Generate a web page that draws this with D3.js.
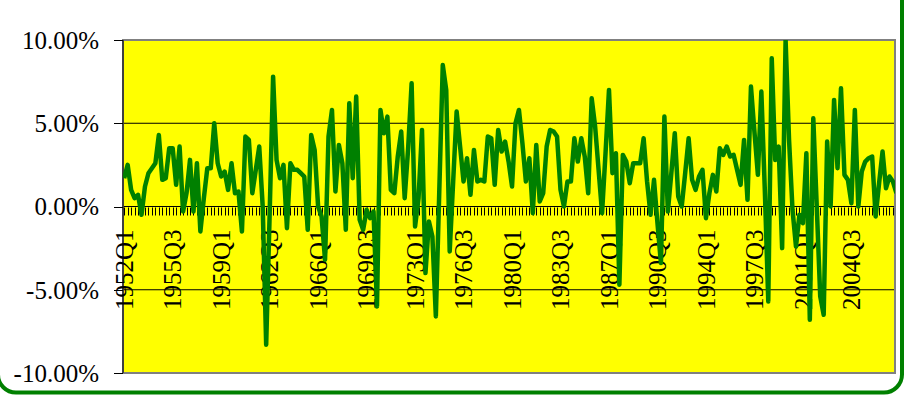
<!DOCTYPE html>
<html>
<head>
<meta charset="utf-8">
<script src="https://cdn.jsdelivr.net/npm/d3@7"></script>
<style>
  body { margin: 0; background: #fff; }
  svg { display: block; }
</style>
</head>
<body>
<div id="chart"></div>
<script>
const width = 906;
const height = 395;
const plotLeft = 123;
const plotRight = 895;
const plotTop = 40;
const plotBottom = 373;

// quarterly growth, in percent, 1952Q1 .. 2007Q4
const growth = [
  1.7, 2.5, 1.0, 0.5, 0.7, -0.5, 1.2, 2.0, 2.3, 2.6,
  4.3, 1.6, 1.7, 3.5, 3.5, 1.3, 3.6, -0.3, 0.8, 2.8,
  -0.3, 2.6, -1.5, 0.5, 2.3, 2.3, 5.0, 2.6, 1.8, 2.1,
  1.0, 2.6, 0.8, 0.9, -1.5, 4.2, 4.0, 0.8, 2.2, 3.6,
  0.0, -8.3, -0.5, 7.8, 2.8, 1.7, 2.5, -1.3, 2.6, 2.2,
  2.2, 2.0, 1.8, -1.4, 4.3, 3.4, 0.0, -0.6, -3.2, 4.2,
  5.8, 0.9, 3.7, 2.6, -1.4, 6.2, 1.7, 6.6, -0.8, -1.4,
  -0.2, -0.7, -0.3, -6.0, 5.8, 4.4, 5.4, 1.0, 0.8, 3.0,
  4.5, 0.5, 3.5, 7.4, -1.2, 0.5, 4.6, -4.0, -0.9, -1.8,
  -6.6, 1.0, 8.5, 7.0, -2.7, 1.5, 5.7, 3.6, 1.5, 2.9,
  0.7, 3.4, 1.5, 1.6, 1.5, 4.2, 4.1, 1.3, 4.6, 3.3,
  3.9, 2.7, 1.2, 5.0, 5.8, 3.8, 1.5, 2.9, -0.4, 3.7,
  0.3, 0.8, 3.6, 4.6, 4.5, 4.2, 1.0, 0.0, 1.5, 1.5,
  4.1, 2.7, 4.1, 3.0, 0.8, 6.5, 4.8, 2.2, -0.4, 3.2,
  7.0, 2.0, 3.2, -4.7, 3.1, 2.7, 1.4, 2.6, 2.6, 2.6,
  4.1, 1.5, -0.5, 1.6, -1.0, -3.4, 5.4, -0.3, 2.0, 4.4,
  0.6, 0.0, 2.0, 4.1, 1.6, 1.0, 1.8, 2.2, -0.7, 0.8,
  1.9, 0.9, 3.5, 3.1, 3.6, 3.0, 3.1, 2.2, 1.3, 4.0,
  0.4, 7.2, 4.5, 1.9, 6.9, 1.0, -5.7, 8.9, 2.8, 3.6,
  -2.5, 10.0, 4.0, -0.2, -2.4, -0.5, -1.0, 3.2, -6.8, 5.3,
  0.0, -5.4, -6.5, 3.9, 0.0, 6.4, 2.3, 7.1, 1.9, 1.6,
  0.2, 5.8, 0.0, 2.1, 2.7, 2.9, 3.0, -0.6, 1.4, 3.3,
  1.1, 1.8, 1.5, 0.8
];

const tickLabels = ["1952Q1", "1955Q3", "1959Q1", "1962Q3", "1966Q1", "1969Q3", "1973Q1", "1976Q3",
  "1980Q1", "1983Q3", "1987Q1", "1990Q3", "1994Q1", "1997Q3", "2001Q1", "2004Q3"];
const yTicks = [-10, -5, 0, 5, 10];

const quarters = [];
for (let yr = 1952; yr <= 2007; yr++) {
  for (let q = 1; q <= 4; q++) quarters.push(yr + "Q" + q);
}
const data = quarters.map((q, i) => ({ q: q, v: growth[i] }));

const svg = d3.select("#chart").append("svg")
  .attr("width", width)
  .attr("height", height);

// outer green frame
svg.append("rect")
  .attr("x", -2).attr("y", -20)
  .attr("width", 904).attr("height", 412.5)
  .attr("rx", 18)
  .attr("fill", "#fff")
  .attr("stroke", "#008000")
  .attr("stroke-width", 4);

const x = d3.scalePoint().domain(quarters).range([124.2, 896.4]);
const y = d3.scaleLinear().domain([-10, 10]).range([plotBottom, plotTop]);

svg.append("rect")
  .attr("x", plotLeft).attr("y", plotTop)
  .attr("width", plotRight - plotLeft).attr("height", plotBottom - plotTop)
  .attr("fill", "#ffff00");

svg.append("g")
  .selectAll("line")
  .data([-5, 0, 5])
  .join("line")
  .attr("x1", plotLeft).attr("x2", plotRight)
  .attr("y1", d => y(d)).attr("y2", d => y(d))
  .attr("stroke", "#000").attr("stroke-width", 1);

svg.append("rect")
  .attr("x", plotLeft).attr("y", plotTop)
  .attr("width", plotRight - plotLeft).attr("height", plotBottom - plotTop)
  .attr("fill", "none")
  .attr("stroke", "#808080").attr("stroke-width", 2);

// y axis: line, ticks, labels
svg.append("line")
  .attr("x1", plotLeft).attr("x2", plotLeft)
  .attr("y1", plotTop).attr("y2", plotBottom)
  .attr("stroke", "#000");

svg.append("g")
  .selectAll("line")
  .data(yTicks)
  .join("line")
  .attr("x1", plotLeft - 9).attr("x2", plotLeft)
  .attr("y1", d => Math.round(y(d)) + 0.5).attr("y2", d => Math.round(y(d)) + 0.5)
  .attr("stroke", "#000");

svg.append("g")
  .selectAll("text")
  .data(yTicks)
  .join("text")
  .attr("x", plotLeft - 24)
  .attr("y", d => y(d))
  .attr("dy", "0.35em")
  .attr("text-anchor", "end")
  .attr("font-family", "Liberation Serif")
  .attr("font-size", 25)
  .attr("fill", "#000")
  .text(d => d.toFixed(2) + "%");

// x axis: minor ticks on the zero line, rotated labels
const y0 = Math.round(y(0)) + 0.5;
svg.append("g")
  .selectAll("line")
  .data(quarters.filter(d => x(d) < plotRight - 1))
  .join("line")
  .attr("x1", d => Math.round(x(d)) + 0.5).attr("x2", d => Math.round(x(d)) + 0.5)
  .attr("y1", y0).attr("y2", y0 + 8)
  .attr("stroke", "#000");

svg.append("g")
  .selectAll("text")
  .data(tickLabels)
  .join("text")
  .attr("transform", d => `translate(${x(d)},${y(0) + 23}) rotate(-90)`)
  .attr("dy", "0.35em")
  .attr("text-anchor", "end")
  .attr("font-family", "Liberation Serif")
  .attr("font-size", 25)
  .attr("fill", "#000")
  .text(d => d);

svg.append("clipPath").attr("id", "clip")
  .append("rect")
  .attr("x", plotLeft).attr("y", plotTop)
  .attr("width", plotRight - plotLeft).attr("height", plotBottom - plotTop);

const line = d3.line()
  .x(d => x(d.q))
  .y(d => y(d.v));

svg.append("path")
  .datum(data)
  .attr("clip-path", "url(#clip)")
  .attr("fill", "none")
  .attr("stroke", "#008000")
  .attr("stroke-width", 4.5)
  .attr("stroke-linejoin", "round")
  .attr("d", line);
</script>
</body>
</html>
